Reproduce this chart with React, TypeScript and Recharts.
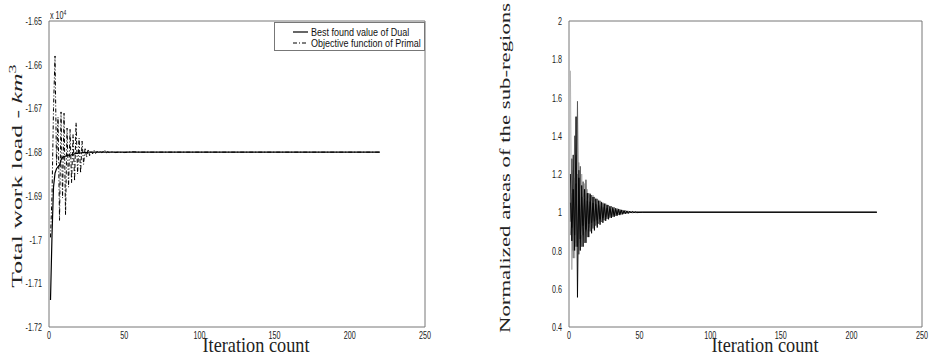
import { LineChart, Line, XAxis, YAxis } from "recharts";

// left panel: iteration index and the two objective curves (in units of 1e4)
const iterL = [
  1, 2, 3, 4, 5, 6, 7, 8, 9, 10, 11, 12, 13, 14, 15, 16, 17, 18, 19, 20,
  21, 22, 23, 24, 25, 26, 27, 28, 29, 30, 31, 32, 33, 34, 35, 36, 37, 38, 39, 40,
  42, 44, 46, 50, 55, 60, 220,
];
const dualVals = [
  -1.7138, -1.699, -1.688, -1.6848, -1.6838, -1.6833, -1.683, -1.6818, -1.6812, -1.681,
  -1.6809, -1.6808, -1.6807, -1.6807, -1.6806, -1.6805, -1.6804, -1.6803, -1.6803, -1.6802,
  -1.6802, -1.6801, -1.6801, -1.6801, -1.6801, -1.68, -1.68, -1.68, -1.68, -1.68,
  -1.68, -1.68, -1.68, -1.68, -1.68, -1.68, -1.68, -1.68, -1.68, -1.68,
  -1.68, -1.68, -1.68, -1.68, -1.68, -1.68, -1.68,
];
const primalVals = [
  -1.6995, -1.69, -1.67, -1.658, -1.683, -1.672, -1.6956, -1.6708, -1.6905, -1.6711,
  -1.6944, -1.6745, -1.688, -1.6748, -1.687, -1.676, -1.6866, -1.6733, -1.685, -1.6768,
  -1.6848, -1.6775, -1.6828, -1.679, -1.6812, -1.6793, -1.6808, -1.6797, -1.6804, -1.6796,
  -1.6803, -1.6798, -1.6802, -1.6797, -1.6801, -1.6799, -1.6795, -1.6802, -1.6799, -1.6801,
  -1.6799, -1.6801, -1.68, -1.6801, -1.6799, -1.68, -1.68,
];
const yTicksL = [-1.72, -1.71, -1.7, -1.69, -1.68, -1.67, -1.66, -1.65];
const xTicks = [0, 50, 100, 150, 200, 250];

// right panel: normalized areas of the sub-regions
const iterR = [
  1, 2, 3, 4, 5, 6, 7, 8, 9, 10, 11, 12, 13, 14, 15, 16, 17, 18, 19, 20,
  21, 22, 23, 24, 25, 26, 27, 28, 29, 30, 31, 32, 33, 34, 35, 36, 37, 38, 39, 40,
  41, 42, 43, 44, 45, 46, 47, 48, 52, 218,
];
const areaA = [
  1.74, 0.7, 1.22, 0.76, 1.3, 0.86, 1.26, 0.84, 1.2, 0.88, 1.15, 0.9, 1.12, 0.92, 1.1, 0.925, 1.09, 0.94, 1.075, 0.945,
  1.065, 0.95, 1.055, 0.96, 1.045, 0.965, 1.04, 0.97, 1.033, 0.975, 1.028, 0.98, 1.022, 0.984, 1.018, 0.987, 1.014, 0.99, 1.011, 0.992,
  1.008, 0.994, 1.006, 0.996, 1.004, 0.997, 1.003, 0.998, 1.0, 1.0,
];
const areaB = [
  0.95, 1.28, 0.8, 1.4, 0.82, 1.58, 0.78, 1.24, 0.82, 1.16, 0.84, 1.17, 0.87, 1.1, 0.9, 1.09, 0.915, 1.08, 0.93, 1.07,
  0.94, 1.06, 0.95, 1.05, 0.958, 1.045, 0.965, 1.038, 0.972, 1.032, 0.977, 1.026, 0.982, 1.02, 0.986, 1.016, 0.989, 1.012, 0.992, 1.009,
  0.994, 1.007, 0.996, 1.005, 0.997, 1.003, 0.998, 1.002, 1.0, 1.0,
];
const areaC = [
  1.2, 0.85, 1.12, 0.8, 1.5, 0.555, 1.18, 0.8, 1.14, 0.82, 1.12, 0.84, 1.1, 0.87, 1.094, 0.89, 1.08, 0.905, 1.07, 0.92,
  1.06, 0.935, 1.052, 0.945, 1.045, 0.955, 1.038, 0.963, 1.031, 0.97, 1.025, 0.976, 1.02, 0.981, 1.016, 0.985, 1.012, 0.989, 1.009, 0.992,
  1.007, 0.994, 1.005, 0.996, 1.004, 0.997, 1.002, 0.998, 1.0, 1.0,
];
const areaD = [
  0.88, 1.1, 0.76, 1.18, 0.84, 1.2, 0.9, 1.12, 0.88, 1.08, 0.9, 1.07, 0.91, 1.075, 0.92, 1.06, 0.93, 1.055, 0.94, 1.05,
  0.948, 1.042, 0.955, 1.036, 0.962, 1.03, 0.968, 1.025, 0.974, 1.021, 0.979, 1.017, 0.983, 1.014, 0.987, 1.011, 0.99, 1.008, 0.993, 1.006,
  0.995, 1.004, 0.997, 1.003, 0.998, 1.002, 0.999, 1.001, 1.0, 1.0,
];
const areaE = [
  1.05, 0.92, 1.3, 0.88, 1.15, 0.82, 1.22, 0.86, 1.08, 0.93, 1.07, 0.91, 1.06, 0.94, 1.055, 0.945, 1.048, 0.952, 1.042, 0.958,
  1.036, 0.964, 1.031, 0.97, 1.026, 0.975, 1.022, 0.979, 1.018, 0.983, 1.015, 0.986, 1.012, 0.989, 1.01, 0.991, 1.008, 0.993, 1.006, 0.995,
  1.004, 0.996, 1.003, 0.998, 1.002, 0.999, 1.001, 1.0, 1.0, 1.0,
];
const yTicksR = [0.4, 0.6, 0.8, 1, 1.2, 1.4, 1.6, 1.8, 2];

const dataL = iterL.map((it, i) => ({ it, dual: dualVals[i], primal: primalVals[i] }));
const dataR = iterR.map((it, i) => ({
  it, a: areaA[i], b: areaB[i], c: areaC[i], d: areaD[i], e: areaE[i],
}));

const AXIS = "#777";
const SANS = "'Liberation Sans', Arial, sans-serif";
const SERIF = "'Liberation Serif', 'Times New Roman', serif";

function XTick({ x, y, payload }: any) {
  return (
    <text transform={`translate(${x},${y + 10}) scale(0.72,1)`} textAnchor="middle"
      fontSize={10} fontFamily={SANS} fill="#222">
      {String(payload.value)}
    </text>
  );
}

function YTick({ x, y, payload }: any) {
  return (
    <text transform={`translate(${x - 5},${y + 4}) scale(0.72,1)`} textAnchor="end"
      fontSize={10} fontFamily={SANS} fill="#222">
      {String(payload.value)}
    </text>
  );
}

// MATLAB style box: labelled bottom/left axes plus inward ticks on all four sides
function frame(yDomain: number[], yTicks: number[]) {
  return [
    <XAxis key="x" xAxisId={0} type="number" dataKey="it" domain={[0, 250]} ticks={xTicks}
      interval={0} allowDataOverflow tick={<XTick />} tickLine={false} tickSize={0}
      axisLine={{ stroke: AXIS }} height={20} />,
    <XAxis key="xb" xAxisId="xb" type="number" dataKey="it" domain={[0, 250]} ticks={xTicks}
      interval={0} allowDataOverflow mirror orientation="bottom" tick={false}
      tickLine={{ stroke: AXIS }} tickSize={4} axisLine={false} />,
    <XAxis key="xt" xAxisId="xt" type="number" dataKey="it" domain={[0, 250]} ticks={xTicks}
      interval={0} allowDataOverflow mirror orientation="top" tick={false}
      tickLine={{ stroke: AXIS }} tickSize={4} axisLine={{ stroke: AXIS }} />,
    <YAxis key="y" yAxisId={0} type="number" domain={yDomain} ticks={yTicks} interval={0}
      allowDataOverflow tick={<YTick />} tickLine={false} tickSize={0}
      axisLine={{ stroke: AXIS }} width={44} />,
    <YAxis key="yl" yAxisId="yl" type="number" domain={yDomain} ticks={yTicks} interval={0}
      allowDataOverflow mirror orientation="left" tick={false}
      tickLine={{ stroke: AXIS }} tickSize={4} axisLine={false} />,
    <YAxis key="yr" yAxisId="yr" type="number" domain={yDomain} ticks={yTicks} interval={0}
      allowDataOverflow mirror orientation="right" tick={false}
      tickLine={{ stroke: AXIS }} tickSize={4} axisLine={{ stroke: AXIS }} />,
  ];
}

function VLabel({ cx, cy, sx, sy, children }: any) {
  return (
    <div style={{
      position: "absolute", left: cx, top: cy, fontFamily: SERIF, fontSize: 23,
      lineHeight: 1, whiteSpace: "nowrap", color: "#222",
      transform: `translate(-50%,-50%) rotate(-90deg) scale(${sx},${sy})`,
    }}>
      {children}
    </div>
  );
}

function XLabel({ cx }: { cx: number }) {
  return (
    <div style={{
      position: "absolute", left: cx, top: 341.5, fontFamily: SERIF, fontSize: 22,
      lineHeight: "6px", whiteSpace: "nowrap", color: "#222",
      transform: "translateX(-50%) scaleX(0.83)",
    }}>
      Iteration count
    </div>
  );
}

export default function App() {
  return (
    <div style={{ position: "absolute", left: 0, top: 0, width: 930, height: 356, background: "#fff", overflow: "hidden" }}>
      <div style={{ position: "absolute", left: 0, top: 0 }}>
        <LineChart width={440} height={356} data={dataL}
          margin={{ top: 21, right: 15, bottom: 9, left: 5 }}>
          {frame([-1.72, -1.65], yTicksL)}
          <Line dataKey="dual" stroke="#000" strokeWidth={1.2} dot={false} isAnimationActive={false} />
          <Line dataKey="primal" stroke="#000" strokeWidth={1} strokeDasharray="4 2 1 2"
            dot={false} isAnimationActive={false} />
        </LineChart>
      </div>

      <div style={{ position: "absolute", left: 490, top: 0 }}>
        <LineChart width={440} height={356} data={dataR}
          margin={{ top: 21, right: 8, bottom: 9, left: 35 }}>
          {frame([0.4, 2], yTicksR)}
          <Line dataKey="a" stroke="#a8a8a8" strokeWidth={0.9} dot={false} isAnimationActive={false} />
          <Line dataKey="b" stroke="#555" strokeWidth={0.9} dot={false} isAnimationActive={false} />
          <Line dataKey="d" stroke="#777" strokeWidth={0.9} dot={false} isAnimationActive={false} />
          <Line dataKey="e" stroke="#222" strokeWidth={0.9} dot={false} isAnimationActive={false} />
          <Line dataKey="c" stroke="#000" strokeWidth={0.9} dot={false} isAnimationActive={false} />
        </LineChart>
      </div>

      {/* exponent marker above the left y axis */}
      <div style={{
        position: "absolute", left: 50, top: 10, fontFamily: SANS, fontSize: 10, color: "#222",
        whiteSpace: "nowrap", transform: "scaleX(0.72)", transformOrigin: "left top",
      }}>
        x 10<span style={{ fontSize: 7, position: "relative", top: -4 }}>4</span>
      </div>

      {/* legend */}
      <svg style={{ position: "absolute", left: 274, top: 22 }} width={151} height={29}>
        <rect x={0.5} y={0.5} width={150} height={28} fill="#fff" stroke={AXIS} />
        <line x1={19} y1={10} x2={34} y2={10} stroke="#000" strokeWidth={1.2} />
        <text transform="translate(37,14) scale(0.82,1)" fontSize={11} fontFamily={SANS} fill="#111">
          Best found value of Dual
        </text>
        <line x1={19} y1={21} x2={34} y2={21} stroke="#000" strokeWidth={1} strokeDasharray="4 2 1 2" />
        <text transform="translate(37,25) scale(0.82,1)" fontSize={11} fontFamily={SANS} fill="#111">
          Objective function of Primal
        </text>
      </svg>

      <VLabel cx={17} cy={176} sx={1.12} sy={0.66}>
        Total work load - <i>km</i>
        <span style={{ fontSize: "0.7em", position: "relative", top: "-0.55em" }}>3</span>
      </VLabel>
      <VLabel cx={505} cy={168} sx={0.99} sy={0.66}>
        Normalized areas of the sub-regions
      </VLabel>

      <XLabel cx={256} />
      <XLabel cx={765} />
    </div>
  );
}
